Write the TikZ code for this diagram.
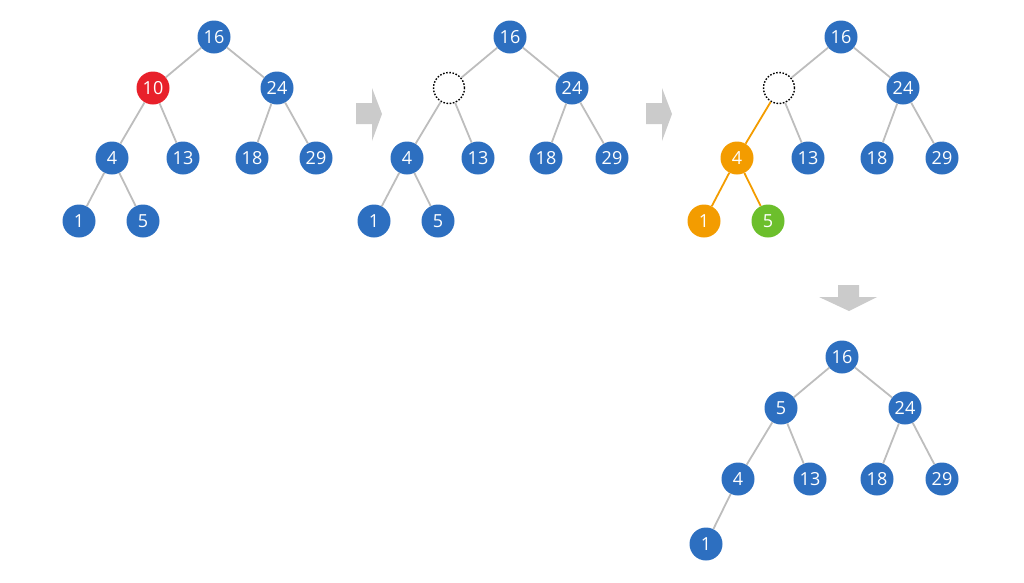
\documentclass[tikz,border=0pt]{standalone}
\usepackage{fontspec}
\setmainfont{Open Sans}
\definecolor{nblue}{HTML}{2D6FC0}
\definecolor{nred}{HTML}{E8202A}
\definecolor{norange}{HTML}{F39C00}
\definecolor{ngreen}{HTML}{6CBF2C}
\definecolor{egray}{HTML}{BDBDBD}
\definecolor{agray}{HTML}{CBCBCB}
\begin{document}
\begin{tikzpicture}[x=1pt,y=-1pt,
  nd/.style={circle,fill=nblue,text=white,minimum size=33pt,inner sep=0pt,font=\fontsize{18}{18}\selectfont},
  rednd/.style={nd,fill=nred},
  orgnd/.style={nd,fill=norange},
  grnnd/.style={nd,fill=ngreen},
  hole/.style={circle,draw=black,dash pattern=on 1.6pt off 1.6pt,fill=white,minimum size=31pt,inner sep=0pt,line width=1.4pt},
  edge/.style={draw=egray,line width=1.8pt},
  oedge/.style={draw=norange,line width=1.8pt},
  bigarrow/.style={fill=agray}]
\useasboundingbox (0,0) rectangle (1024,582);
% ---------- tree 1 ----------
\node[nd] (a16) at (214,37) {16};
\node[rednd] (a10) at (153,88) {10};
\node[nd] (a24) at (277,88) {24};
\node[nd] (a4) at (112,158) {4};
\node[nd] (a13) at (183,158) {13};
\node[nd] (a18) at (252,158) {18};
\node[nd] (a29) at (316,158) {29};
\node[nd] (a1) at (79,221) {1};
\node[nd] (a5) at (143,221) {5};
% ---------- tree 2 ----------
\node[nd] (b16) at (510,37) {16};
\node[hole] (b10) at (449,88) {};
\node[nd] (b24) at (572,88) {24};
\node[nd] (b4) at (407,158) {4};
\node[nd] (b13) at (478,158) {13};
\node[nd] (b18) at (546,158) {18};
\node[nd] (b29) at (612,158) {29};
\node[nd] (b1) at (374,221) {1};
\node[nd] (b5) at (438,221) {5};
% ---------- tree 3 ----------
\node[nd] (c16) at (841,37) {16};
\node[hole] (c10) at (779,88) {};
\node[nd] (c24) at (903,88) {24};
\node[orgnd] (c4) at (737,158) {4};
\node[nd] (c13) at (808,158) {13};
\node[nd] (c18) at (877,158) {18};
\node[nd] (c29) at (942,158) {29};
\node[orgnd] (c1) at (704,221) {1};
\node[grnnd] (c5) at (768,221) {5};
% ---------- tree 4 ----------
\node[nd] (d16) at (842,357) {16};
\node[nd] (d5) at (781,408) {5};
\node[nd] (d24) at (905,408) {24};
\node[nd] (d4) at (738,479) {4};
\node[nd] (d13) at (810,479) {13};
\node[nd] (d18) at (877,479) {18};
\node[nd] (d29) at (942,479) {29};
\node[nd] (d1) at (706,544) {1};
% ---------- edges ----------
\foreach \p/\c in {a16/a10,a16/a24,a10/a4,a10/a13,a24/a18,a24/a29,a4/a1,a4/a5,
                   b16/b10,b16/b24,b10/b4,b10/b13,b24/b18,b24/b29,b4/b1,b4/b5,
                   c16/c10,c16/c24,c10/c13,c24/c18,c24/c29,
                   d16/d5,d16/d24,d5/d4,d5/d13,d24/d18,d24/d29,d4/d1}
  \path[edge] (\p) -- (\c);
\foreach \p/\c in {c10/c4,c4/c1,c4/c5}
  \path[oedge] (\p) -- (\c);
% ---------- arrows ----------
\coordinate (r1) at (356,103);
\coordinate (r2) at (646,103);
\coordinate (dn) at (838,285);
\fill[bigarrow] (r1) -- ++(16,0) -- ++(0,-15) -- ++(10,26) -- ++(-10,27) -- ++(0,-17) -- ++(-16,0) -- cycle;
\fill[bigarrow] (r2) -- ++(16,0) -- ++(0,-15) -- ++(10,26) -- ++(-10,27) -- ++(0,-17) -- ++(-16,0) -- cycle;
\fill[bigarrow] (dn) -- ++(21,0) -- ++(0,12) -- ++(18,0) -- ++(-28,14) -- ++(-30,-14) -- ++(19,0) -- cycle;
\end{tikzpicture}
\end{document}
